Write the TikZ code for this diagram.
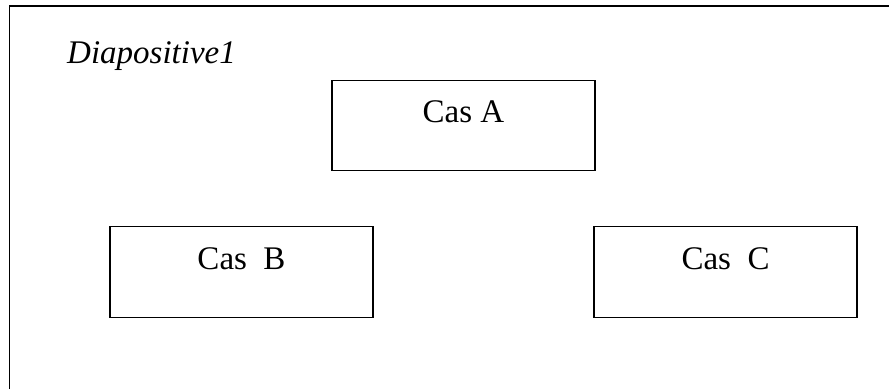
\documentclass[tikz,border=0pt]{standalone}
\usepackage{fontspec}
\setmainfont{Liberation Serif}
\begin{document}
\begin{tikzpicture}[x=1pt,y=-1pt,
  casbox/.style={draw=black, line width=1.3pt, inner sep=0pt, minimum width=263pt,
    anchor=north, font=\fontsize{33}{39}\selectfont},
  topbox/.style={casbox, text height=42pt, text depth=48pt},
  lowbox/.style={casbox, text height=43pt, text depth=48pt}]
\useasboundingbox (0,0) rectangle (889,389);
\coordinate (fb) at (9.5,389);
\coordinate (fc) at (9.5,6);
\coordinate (fr) at (889,6);
\draw[line width=1.5pt] (fb) -- (fc) -- (fr);
\node[anchor=base west, inner sep=0pt, font=\fontsize{33}{39}\selectfont\itshape] (title) at (67,63) {Diapositive1};
\node[topbox] (a) at (463.5,80) {Cas A};
\node[lowbox] (b) at (241.5,226) {Cas\ \ B};
\node[lowbox] (c) at (725.5,226) {Cas\ \ C};
\end{tikzpicture}
\end{document}
